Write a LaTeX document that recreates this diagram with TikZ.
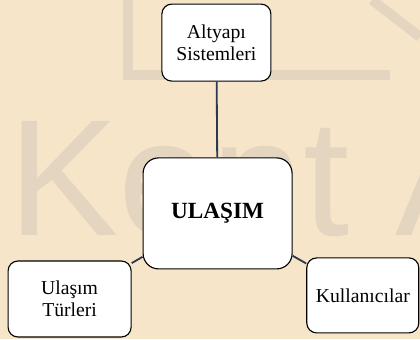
\documentclass[tikz,border=0pt]{standalone}
\usepackage{fontspec}
\setmainfont{Liberation Serif}
\newfontfamily\markfont{Liberation Sans}
\usetikzlibrary{positioning}

\definecolor{paper}{RGB}{247,229,202}
\definecolor{markgray}{RGB}{160,158,155}
\definecolor{linkblue}{RGB}{45,57,78}

\tikzset{
    topic/.style={draw=black, fill=white, line width=0.8pt,
                  rounded corners=7pt, align=center, inner sep=2pt,
                  font=\fontsize{14}{15.5}\selectfont},
    hub/.style={topic, rounded corners=11pt,
                font=\fontsize{16.5}{18}\selectfont\bfseries},
    link/.style={draw=linkblue, line width=1.3pt}
}

\begin{document}
\begin{tikzpicture}
    \useasboundingbox (0,0) rectangle (10.5,8.475);
    % paper and faded logo behind
    \fill[paper] (0,0) rectangle (10.5,8.475);
    \begin{scope}[opacity=.22]
        \draw[markgray, line width=7pt] (3.2,8.475) -- (3.2,6.6) -- (9.75,6.6);
        \draw[markgray, line width=7pt] (9.3,8.475) -- (10.5,7.55);
        \node [anchor=base west, text=markgray, inner sep=0pt,
               font=\markfont\fontsize{118}{118}\selectfont] (mark) at (0.2,2.6) {Kent A};
    \end{scope}
    % boxes
    \node [hub, minimum width=3.725cm, minimum height=2.775cm] (ulasim) at (5.44,3.14) {ULAŞIM};
    \node [topic, minimum width=2.725cm, minimum height=1.925cm] (altyapi) at (5.41,7.41) {Altyapı\\Sistemleri};
    \node [topic, minimum width=3.075cm, minimum height=1.9cm] (turler) at (1.74,1.0) {Ulaşım\\Türleri};
    \node [topic, minimum width=2.8cm, minimum height=1.875cm] (kullanici) at (9.07,1.09) {Kullanıcılar};
    % links
    \draw [link] (ulasim) edge (altyapi) edge (turler) edge (kullanici);
\end{tikzpicture}
\end{document}
